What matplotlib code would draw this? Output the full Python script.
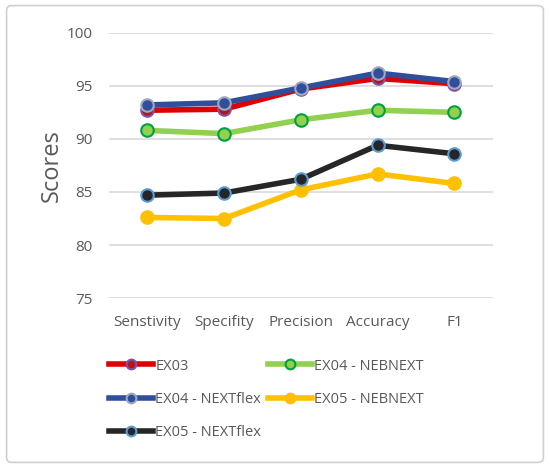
import matplotlib.pyplot as plt
from matplotlib.patches import FancyBboxPatch

plt.rcParams['font.family'] = ['Open Sans', 'DejaVu Sans']

categories = ['Senstivity', 'Specifity', 'Precision', 'Accuracy', 'F1']
ex03 = [92.7, 92.8, 94.7, 95.7, 95.2]
ex04_nebnext = [90.8, 90.5, 91.8, 92.7, 92.5]
ex04_nextflex = [93.2, 93.4, 94.8, 96.2, 95.4]
ex05_nebnext = [82.6, 82.5, 85.2, 86.7, 85.8]
ex05_nextflex = [84.7, 84.9, 86.2, 89.4, 88.6]

fig = plt.figure(figsize=(5.5, 4.68), dpi=100)
ax = fig.add_axes([0.198, 0.363, 0.698, 0.567])

# border round the whole chart
border = FancyBboxPatch((0.012, 0.012), 0.976, 0.976, boxstyle='round,pad=0,rounding_size=0.01',
                        transform=fig.transFigure, fill=False, edgecolor='#D0D0D0', linewidth=1.2)
fig.patches.append(border)

x = range(len(categories))
series = [
    ('EX03', ex03, '#E00000', '#B01818', '#8050B0'),
    ('EX04 - NEBNEXT', ex04_nebnext, '#92D050', '#92D050', '#00A040'),
    ('EX04 - NEXTflex', ex04_nextflex, '#2F4F9A', '#2F4F9A', '#A0A8C0'),
    ('EX05 - NEBNEXT', ex05_nebnext, '#FFC000', '#FFC000', '#FFC000'),
    ('EX05 - NEXTflex', ex05_nextflex, '#262626', '#262626', '#5B9BD5'),
]
# draw order: lowest first so blue sits on top of red
order = [3, 4, 1, 0, 2]
handles = {}
for i in order:
    name, vals, lc, fc, ec = series[i]
    h, = ax.plot(x, vals, color=lc, linewidth=4, marker='o', markersize=9,
                 markerfacecolor=fc, markeredgecolor=ec, markeredgewidth=1.5,
                 label=name, zorder=3 + i)
    handles[i] = h

ax.set_ylim(75, 100)
ax.set_yticks([75, 80, 85, 90, 95, 100])
ax.set_xlim(-0.5, 4.5)
ax.set_xticks(list(x))
ax.set_xticklabels(categories)
ax.grid(axis='y', color='#D9D9D9', linewidth=1.2)
ax.set_axisbelow(True)
for s in ax.spines.values():
    s.set_visible(False)
ax.tick_params(axis='y', length=0, labelsize=11, colors='#595959', pad=12)
ax.tick_params(axis='x', length=0, labelsize=11, colors='#595959', pad=12)
ax.set_ylabel('Scores', fontsize=17, color='#595959', labelpad=2)

# legend fills rows in the reference, matplotlib fills columns
leg_order = [0, 2, 4, 1, 3]
leg = fig.legend([handles[i] for i in leg_order], [series[i][0] for i in leg_order],
                 loc='upper left', bbox_to_anchor=(0.175, 0.262), ncol=2,
                 frameon=False, fontsize=10.5, handlelength=3.0, handletextpad=0.15,
                 columnspacing=0.5, labelspacing=1.25)
for t in leg.get_texts():
    t.set_color('#595959')
for lh in leg.legend_handles:
    lh.set_markersize(7)
    lh.set_linewidth(4)

fig.savefig('out.png', dpi=100)
